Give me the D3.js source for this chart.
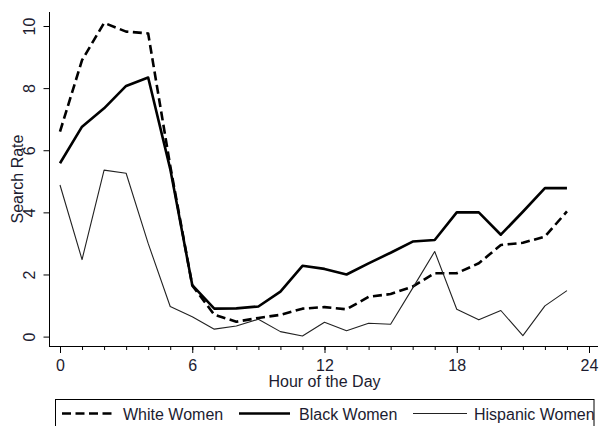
<!DOCTYPE html>
<html>
<head>
<meta charset="utf-8">
<script src="https://cdn.jsdelivr.net/npm/d3@7"></script>
<style>
  html, body { margin: 0; padding: 0; background: #fff; }
  svg { display: block; }
  text { font-family: "Liberation Sans", Arial, sans-serif; fill: #1c1c30; }
</style>
</head>
<body>
<svg id="chart" width="605" height="426"></svg>
<script>
// Hourly search rates by group
const hours = d3.range(0, 24);
const whiteWomen = [6.6, 8.9, 10.1, 9.82, 9.76, 5.5, 1.65, 0.7, 0.48, 0.6, 0.7, 0.9,
                    0.95, 0.88, 1.28, 1.37, 1.61, 2.04, 2.04, 2.36, 2.95, 3.02, 3.22, 4.03];
const blackWomen = [5.58, 6.76, 7.35, 8.07, 8.34, 5.4, 1.66, 0.9, 0.91, 0.97, 1.45, 2.28,
                    2.18, 2.0, 2.36, 2.7, 3.06, 3.11, 4.0, 4.0, 3.28, 4.02, 4.78, 4.78];
const hispanicWomen = [4.88, 2.48, 5.36, 5.26, 3.0, 0.97, 0.64, 0.24, 0.34, 0.56, 0.16, 0.02,
                       0.46, 0.19, 0.43, 0.4, 1.56, 2.74, 0.88, 0.54, 0.84, 0.03, 0.99, 1.48];
const seriesNames = ["White Women", "Black Women", "Hispanic Women"];
const xTicks = [0, 6, 12, 18, 24];
const yTicks = [0, 2, 4, 6, 8, 10];

const svg = d3.select("#chart");
svg.append("rect").attr("width", 605).attr("height", 426).attr("fill", "#fff");

const x = d3.scaleLinear().domain([0, 24]).range([60, 589]);
const y = d3.scaleLinear().domain([0, 10]).range([336.6, 26]);

const frame = { left: 49.5, right: 598, top: 12, bottom: 346.5 };

// Series styles
const styles = [
  { data: whiteWomen, width: 2.6, dash: "9,4.5", color: "#000" },
  { data: blackWomen, width: 2.6, dash: null, color: "#000" },
  { data: hispanicWomen, width: 1.1, dash: null, color: "#222" }
];

const line = d3.line().x((d, i) => x(hours[i])).y(d => y(d));

styles.forEach(s => {
  svg.append("path")
    .datum(s.data)
    .attr("d", line)
    .attr("fill", "none")
    .attr("stroke", s.color)
    .attr("stroke-width", s.width)
    .attr("stroke-linejoin", "round")
    .attr("stroke-dasharray", s.dash);
});

// Y axis
const yAxis = svg.append("g")
  .attr("transform", `translate(${frame.left},0)`)
  .call(d3.axisLeft(y).tickValues(yTicks).tickSize(6).tickSizeOuter(0));
yAxis.select(".domain").remove();
yAxis.selectAll(".tick line").attr("stroke", "#000");
yAxis.selectAll(".tick text")
  .attr("transform", "rotate(-90)")
  .attr("x", 0).attr("y", -15).attr("dy", 0)
  .attr("text-anchor", "middle")
  .style("font-size", "16px")
  .style("font-family", "'Liberation Sans', Arial, sans-serif")
  .attr("fill", "#1c1c30");
svg.append("line")
  .attr("x1", frame.left).attr("x2", frame.left)
  .attr("y1", frame.top).attr("y2", frame.bottom)
  .attr("stroke", "#000").attr("stroke-width", 1);

// X axis: minor ticks each hour, labelled majors every 6 hours
const xMinor = svg.append("g")
  .attr("transform", `translate(0,${frame.bottom})`)
  .call(d3.axisBottom(x).tickValues(d3.range(0, 25)).tickSize(3.5).tickFormat(""));
xMinor.select(".domain").remove();
xMinor.selectAll(".tick line").attr("stroke", "#000");

const xAxis = svg.append("g")
  .attr("transform", `translate(0,${frame.bottom})`)
  .call(d3.axisBottom(x).tickValues(xTicks).tickSize(6.5).tickSizeOuter(0));
xAxis.select(".domain").remove();
xAxis.selectAll(".tick line").attr("stroke", "#000");
xAxis.selectAll(".tick text")
  .attr("y", 24).attr("dy", 0)
  .style("font-size", "16px")
  .style("font-family", "'Liberation Sans', Arial, sans-serif")
  .attr("fill", "#1c1c30");
svg.append("line")
  .attr("x1", frame.left - 0.5).attr("x2", frame.right)
  .attr("y1", frame.bottom).attr("y2", frame.bottom)
  .attr("stroke", "#000").attr("stroke-width", 1);

// Axis titles
svg.append("text")
  .attr("transform", "translate(23,179) rotate(-90)")
  .attr("text-anchor", "middle")
  .style("font-size", "16px")
  .text("Search Rate");
svg.append("text")
  .attr("x", 324.5).attr("y", 386.5)
  .attr("text-anchor", "middle")
  .style("font-size", "16px")
  .text("Hour of the Day");

// Legend
const legend = svg.append("g");
legend.append("rect")
  .attr("x", 55.5).attr("y", 399.5)
  .attr("width", 538.5).attr("height", 40)
  .attr("fill", "#fff").attr("stroke", "#000").attr("stroke-width", 1);
const legendItems = [
  { x1: 62, x2: 112, tx: 123 },
  { x1: 239, x2: 290, tx: 299 },
  { x1: 413, x2: 467, tx: 474 }
];
legendItems.forEach((it, i) => {
  const s = styles[i];
  legend.append("line")
    .attr("x1", it.x1).attr("x2", it.x2)
    .attr("y1", 413.5).attr("y2", 413.5)
    .attr("stroke", s.color)
    .attr("stroke-width", s.width)
    .attr("stroke-dasharray", s.dash);
  legend.append("text")
    .attr("x", it.tx).attr("y", 420)
    .style("font-size", "16px")
    .text(seriesNames[i]);
});
</script>
</body>
</html>
